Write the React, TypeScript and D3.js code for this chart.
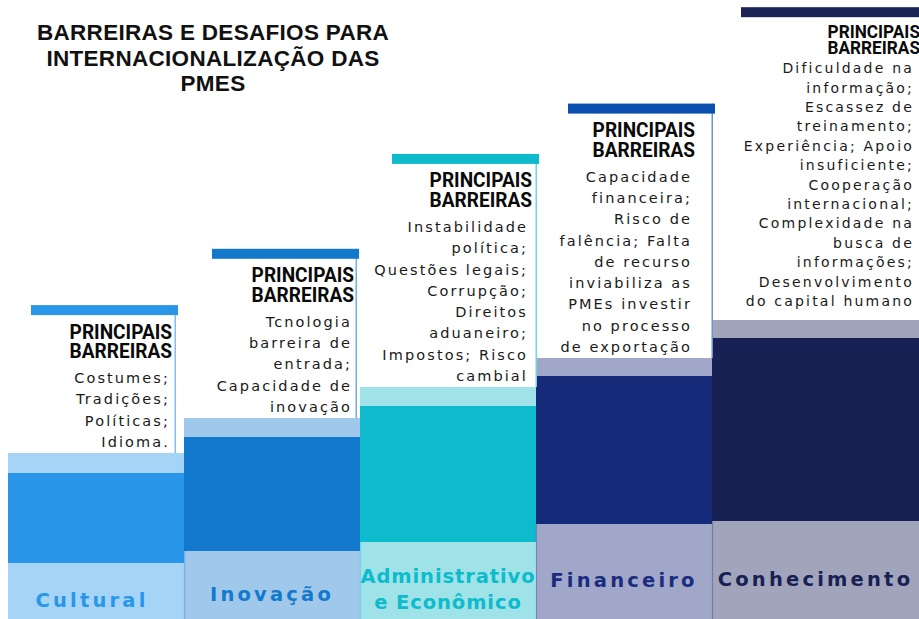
import React from "react";
import * as d3 from "d3";

const W = 919;
const H = 619;

const titleLines = ["BARREIRAS E DESAFIOS PARA", "INTERNACIONALIZAÇÃO DAS", "PMES"];

const categories = ["Cultural", "Inovação", "Administrativo e Econômico", "Financeiro", "Conhecimento"];
const labelLines = [["Cultural"], ["Inovação"], ["Administrativo", "e Econômico"], ["Financeiro"], ["Conhecimento"]];

// step heights (px above the bottom edge)
const stepTop = [166, 201, 232, 261, 299];
const darkTop = [146, 182, 213, 243, 281];
const darkBottom = [56, 68, 77, 95, 98];

const headerLines = ["PRINCIPAIS", "BARREIRAS"];

const barriers = [
  ["Costumes;", "Tradições;", "Políticas;", "Idioma."],
  ["Tcnologia", "barreira de", "entrada;", "Capacidade de", "inovação"],
  ["Instabilidade", "política;", "Questões legais;", "Corrupção;", "Direitos", "aduaneiro;", "Impostos; Risco", "cambial"],
  ["Capacidade", "financeira;", "Risco de", "falência; Falta", "de recurso", "inviabiliza as", "PMEs investir", "no processo", "de exportação"],
  ["Dificuldade na", "informação;", "Escassez de", "treinamento;", "Experiência; Apoio", "insuficiente;", "Cooperação", "internacional;", "Complexidade na", "busca de", "informações;", "Desenvolvimento", "do capital humano"],
];

const lightColors = ["#a6d4f6", "#9fc8ea", "#9fe3e9", "#a1a7c9", "#a1a5bc"];
const darkColors = ["#2996ea", "#1279cc", "#0dbbcc", "#152a78", "#172154"];
const barColors = ["#2a96e8", "#1279cc", "#0dbbcc", "#0a4eae", "#1a2457"];
const labelColors = ["#2996ea", "#1279cc", "#0dbbcc", "#1b2c80", "#172154"];

// small layout tweaks (style)
const cardShift = [-8, -3, 1, 1, 0];
const headerInset = [4, 3, 5, 18, 19];
const bodyInset = [6, 5, 9, 21, 25];

const TITLE_FONT = "'Liberation Sans', Arial, sans-serif";
const HEAD_FONT = "Roboto, 'Liberation Sans', Arial, sans-serif";
const BODY_FONT = "'DejaVu Sans', Verdana, sans-serif";

export default function App() {
  const x = d3.scaleBand<string>().domain(categories).range([8, 888]).paddingInner(0).paddingOuter(0);
  const y = d3.scaleLinear().domain([0, H]).range([H, 0]);
  const bw = x.bandwidth();

  const colLeft = (i: number) => x(categories[i]) as number;
  const colRight = (i: number) => (i === categories.length - 1 ? W : colLeft(i) + bw);

  return (
    <svg
      width={W}
      height={H}
      viewBox={`0 0 ${W} ${H}`}
      style={{ position: "absolute", left: 0, top: 0, background: "#ffffff" }}
    >
      <rect x={0} y={0} width={W} height={H} fill="#ffffff" />

      {/* title */}
      <text
        x={213}
        y={40}
        textAnchor="middle"
        fontFamily={TITLE_FONT}
        fontWeight={700}
        fontSize={22.5}
        fill="#111111"
        letterSpacing={0.3}
      >
        {titleLines.map((t, k) => (
          <tspan key={k} x={213} dy={k === 0 ? 0 : 25.5}>
            {t}
          </tspan>
        ))}
      </text>

      {/* columns */}
      {categories.map((c, i) => {
        const x0 = colLeft(i);
        const x1 = colRight(i);
        return (
          <g key={c}>
            <rect x={x0} y={y(stepTop[i])} width={x1 - x0} height={y(0) - y(stepTop[i])} fill={lightColors[i]} />
            <rect
              x={x0}
              y={y(darkTop[i])}
              width={x1 - x0}
              height={y(darkBottom[i]) - y(darkTop[i])}
              fill={darkColors[i]}
            />
            {i > 0 && (
              <line
                x1={x0 + 0.5}
                x2={x0 + 0.5}
                y1={y(darkBottom[i])}
                y2={y(0)}
                stroke={darkColors[i]}
                strokeOpacity={0.3}
                strokeWidth={1.2}
              />
            )}
          </g>
        );
      })}

      {/* labels */}
      {categories.map((c, i) => {
        const x0 = colLeft(i);
        const x1 = colRight(i);
        const cx = (x0 + x1) / 2 - (i === 0 ? 4 : 0);
        const lines = labelLines[i];
        const center = (y(darkBottom[i]) + y(0)) / 2 + 8;
        const lh = 26;
        const twoLine = lines.length > 1;
        const firstY = center + 7.5 - ((lines.length - 1) / 2) * lh;
        return (
          <text
            key={c + "-lbl"}
            x={cx}
            y={firstY}
            textAnchor="middle"
            fontFamily={BODY_FONT}
            fontWeight={700}
            fontSize={19.5}
            letterSpacing={twoLine ? 0.9 : 3.2}
            fill={labelColors[i]}
          >
            {lines.map((t, k) => (
              <tspan key={k} x={cx} dy={k === 0 ? 0 : lh}>
                {t}
              </tspan>
            ))}
          </text>
        );
      })}

      {/* cards */}
      {categories.map((c, i) => {
        const compact = barriers[i].length > 10;
        const n = barriers[i].length;
        const lh = compact ? 19.4 : 21.3;
        const bodyFirst = compact ? 66 : 78;
        const pad = compact ? 14 : 6;
        const colTopY = y(stepTop[i]);
        const barTop = colTopY - pad - (n - 1) * lh - bodyFirst;
        const last = i === categories.length - 1;
        const cardRight = last ? W + 20 : colLeft(i) + bw + cardShift[i];
        const cardLeft = last ? colLeft(i) + 29 : cardRight - 145;
        const hx = cardRight - headerInset[i];
        const bx = cardRight - bodyInset[i];
        const h1 = compact ? 30.7 : 33.5;
        const h2 = compact ? 46.7 : 53;
        const hs = compact ? 18.5 : 20.5;
        return (
          <g key={c + "-card"}>
            <rect x={cardLeft} y={barTop} width={cardRight - cardLeft} height={colTopY - barTop} fill="#ffffff" />
            <line
              x1={cardRight - 0.75}
              x2={cardRight - 0.75}
              y1={barTop}
              y2={colTopY}
              stroke={barColors[i]}
              strokeOpacity={0.6}
              strokeWidth={1.5}
            />
            <rect x={cardLeft} y={barTop} width={cardRight - cardLeft + 2} height={10} fill={barColors[i]} />
            <g transform={`translate(${hx},${barTop + h1}) scale(0.93,1)`}>
              <text x={0} y={0} textAnchor="end" fontFamily={HEAD_FONT} fontWeight={700} fontSize={hs} fill="#0a0a0a">
                {headerLines.map((t, k) => (
                  <tspan key={k} x={0} dy={k === 0 ? 0 : h2 - h1}>
                    {t}
                  </tspan>
                ))}
              </text>
            </g>
            <text
              x={bx}
              y={barTop + bodyFirst}
              textAnchor="end"
              fontFamily={BODY_FONT}
              fontSize={compact ? 14 : 14.5}
              letterSpacing={compact ? 2.2 : 2.1}
              fill="#1a1a1a"
            >
              {barriers[i].map((t, k) => (
                <tspan key={k} x={bx} dy={k === 0 ? 0 : lh}>
                  {t}
                </tspan>
              ))}
            </text>
          </g>
        );
      })}
    </svg>
  );
}
